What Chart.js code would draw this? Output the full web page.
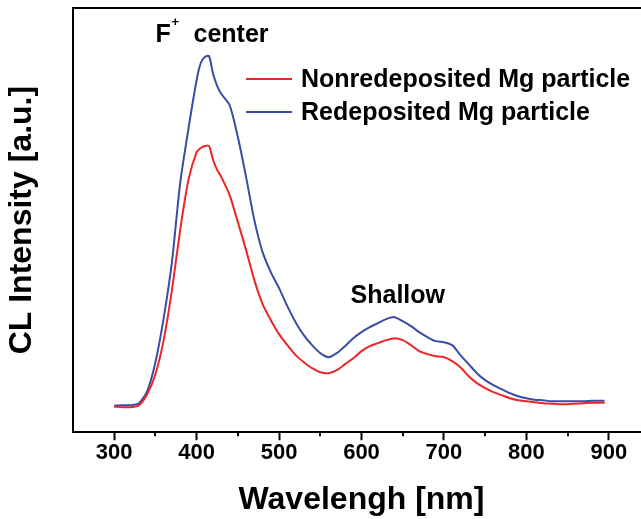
<!DOCTYPE html>
<html lang="en">

<head>
  <meta charset="UTF-8">
  <title>CL Spectra</title>
  <script src="https://cdn.jsdelivr.net/npm/chart.js@4"></script>
  <style>
    body { margin: 0; overflow: hidden; background: #fff; }
    #wrap { width: 650px; height: 519px; }
  </style>
</head>

<body>
  <div id="wrap">
    <canvas id="cl-chart" width="650" height="519"></canvas>
  </div>

  <script>
    // wavelength in nm
    const wavelength = [300, 310, 320, 330, 340, 350, 360, 370, 380, 390, 400, 405, 410, 415, 420, 425, 430,
      440, 450, 460, 470, 480, 490, 500, 510, 520, 530, 540, 550, 560, 570, 580, 590, 600, 610, 620, 630, 640,
      650, 660, 670, 680, 690, 700, 710, 720, 730, 740, 750, 760, 770, 780, 790, 800, 810, 820, 830, 840, 850,
      860, 870, 880, 890, 895];

    const nonredeposited = [25.5, 25, 25, 27, 38, 58, 92, 142, 202, 252, 280, 284, 286, 286, 272, 262, 255,
      237, 210, 182, 152, 128, 112, 98, 87, 77, 70, 64, 60, 59, 62, 68, 74, 81, 86, 89, 92, 94,
      92, 87, 81, 78, 76, 75, 71, 65, 56, 49, 44, 40, 37, 34, 32, 31, 30, 29, 28.5, 28, 28,
      28.5, 29, 29.5, 29.5, 29.5];

    const redeposited = [26.5, 27, 27, 29, 41, 70, 114, 170, 249, 303, 352, 369, 375, 376, 358, 346, 338,
      327, 295, 255, 212, 180, 160, 144, 126, 110, 97, 87, 79, 75, 79, 86, 94, 100, 105, 109, 113, 115,
      111, 106, 100, 95, 91, 90, 87, 77, 68, 59, 52, 47, 43, 39, 36, 34, 32.5, 32, 31, 31, 31,
      31, 31, 31.5, 31.5, 31.5];

    const seriesLabels = ['Nonredeposited Mg particle', 'Redeposited Mg particle'];
    const majorTicks = [300, 400, 500, 600, 700, 800, 900];
    const minorTicks = [350, 450, 550, 650, 750, 850];

    const FONT = '"Liberation Sans", Arial, sans-serif';

    const extras = {
      id: 'extras',
      afterDraw(chart) {
        const ctx = chart.ctx;
        const area = chart.chartArea;
        const x = chart.scales.x;
        const y = chart.scales.y;
        ctx.save();

        // top frame line
        ctx.strokeStyle = '#000';
        ctx.lineWidth = 2;
        ctx.beginPath();
        ctx.moveTo(area.left - 1, area.top);
        ctx.lineTo(area.right, area.top);
        ctx.stroke();

        // minor ticks
        minorTicks.forEach(v => {
          const px = Math.round(x.getPixelForValue(v));
          ctx.beginPath();
          ctx.moveTo(px, area.bottom);
          ctx.lineTo(px, area.bottom + 4);
          ctx.stroke();
        });

        // legend
        ctx.font = 'bold 25px ' + FONT;
        ctx.textBaseline = 'middle';
        ctx.textAlign = 'left';
        chart.data.datasets.forEach((ds, i) => {
          const ly = area.top + 71 + i * 33;
          ctx.strokeStyle = ds.borderColor;
          ctx.lineWidth = 2;
          ctx.beginPath();
          ctx.moveTo(area.left + 173, ly);
          ctx.lineTo(area.left + 219, ly);
          ctx.stroke();
          ctx.fillStyle = '#000';
          ctx.fillText(ds.label, area.left + 228, ly + 1);
        });

        // peak labels
        ctx.textBaseline = 'alphabetic';
        ctx.fillStyle = '#000';
        const fx = x.getPixelForValue(418) - 56;
        const fy = y.getPixelForValue(390);
        ctx.font = 'bold 25px ' + FONT;
        ctx.fillText('F', fx, fy);
        ctx.font = 'bold 13px ' + FONT;
        ctx.fillText('+', fx + 16, fy - 16);
        ctx.font = 'bold 25px ' + FONT;
        ctx.fillText('center', fx + 38, fy);

        ctx.textAlign = 'center';
        ctx.fillText('Shallow', x.getPixelForValue(644), y.getPixelForValue(129));
        ctx.restore();
      }
    };

    const ctx = document.getElementById('cl-chart').getContext('2d');

    new Chart(ctx, {
      type: 'line',
      data: {
        datasets: [
          {
            label: seriesLabels[0],
            borderColor: '#ee2526',
            data: wavelength.map((w, i) => ({ x: w, y: nonredeposited[i] }))
          },
          {
            label: seriesLabels[1],
            borderColor: '#3a4ca5',
            data: wavelength.map((w, i) => ({ x: w, y: redeposited[i] }))
          }
        ]
      },
      options: {
        responsive: false,
        animation: false,
        devicePixelRatio: 1,
        layout: { padding: { top: 8, left: 0, right: 0, bottom: 0 } },
        elements: {
          line: { borderWidth: 2, tension: 0.25 },
          point: { radius: 0 }
        },
        plugins: {
          legend: { display: false },
          tooltip: { enabled: false }
        },
        scales: {
          x: {
            type: 'linear',
            min: 250,
            max: 950,
            afterBuildTicks: scale => {
              scale.ticks = majorTicks.map(v => ({ value: v }));
            },
            grid: {
              drawOnChartArea: false,
              drawTicks: true,
              tickLength: 8,
              tickWidth: 2,
              tickColor: '#000'
            },
            border: { color: '#000', width: 2 },
            ticks: {
              padding: 0,
              color: '#000',
              font: { family: FONT, size: 22, weight: 'bold' }
            },
            title: {
              display: true,
              text: 'Wavelengh [nm]',
              color: '#000',
              padding: { top: 14, bottom: 0 },
              font: { family: FONT, size: 32, weight: 'bold' }
            }
          },
          y: {
            min: 0,
            max: 424,
            grid: { display: false, drawTicks: false },
            border: { color: '#000', width: 2 },
            ticks: { display: false },
            title: {
              display: true,
              text: 'CL Intensity [a.u.]',
              color: '#000',
              padding: { top: 3, bottom: 31.6 },
              font: { family: FONT, size: 32, weight: 'bold' }
            }
          }
        }
      },
      plugins: [extras]
    });
  </script>
</body>
</html>
